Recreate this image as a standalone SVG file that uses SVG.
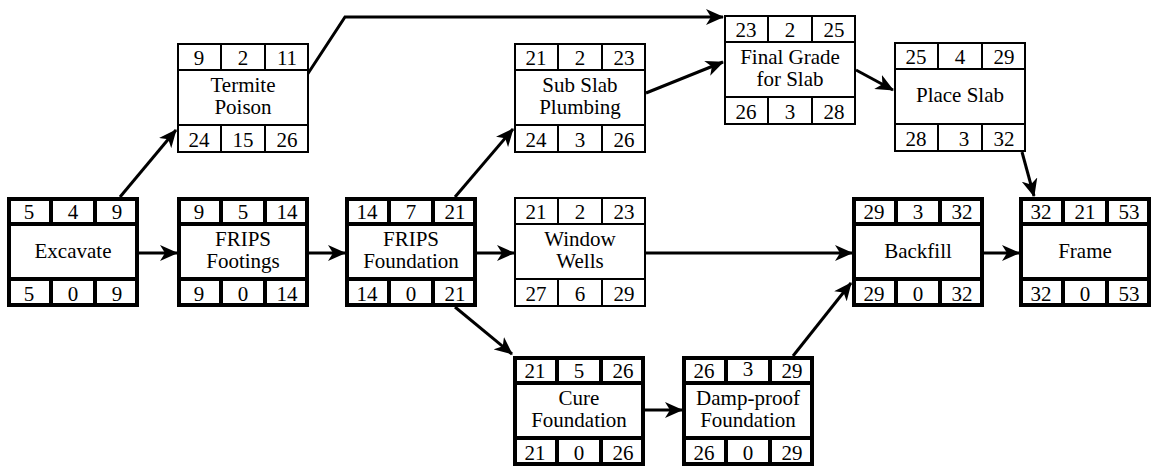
<svg xmlns="http://www.w3.org/2000/svg" width="1156" height="468" viewBox="0 0 1156 468" font-family="Liberation Serif, DejaVu Serif, serif">
<defs>
<style>
.bg{fill:#fff}
.thick rect,.thick line{stroke:#000;stroke-width:4;fill:#fff}
.thin rect,.thin line{stroke:#000;stroke-width:2;fill:#fff}
text{font-size:21px;fill:#000;text-anchor:middle}
.conn path{fill:none;stroke:#000;stroke-width:3;marker-end:url(#arr)}
</style>
<marker id="arr" viewBox="0 0 18 16" refX="17" refY="8" markerWidth="18" markerHeight="16" markerUnits="userSpaceOnUse" orient="auto">
<path d="M0,0 L18,8 L0,16 L5,8 Z" fill="#000"/>
</marker>
</defs>
<rect class="bg" x="0" y="0" width="1156" height="468"/>

<g id="connectors" class="conn">
<path d="M120,197 L176,130"/>
<path d="M139,253 L177,253"/>
<path d="M307,75 L345,17 L723,17"/>
<path d="M309,253 L345,253"/>
<path d="M455,197 L513,129"/>
<path d="M477,253 L514,253"/>
<path d="M455,307 L512,354"/>
<path d="M646,93 L723,62"/>
<path d="M646,253 L852,253"/>
<path d="M645,410 L682,410"/>
<path d="M793,356 L851,283"/>
<path d="M856,70 L893,90"/>
<path d="M1022,152 L1034,196"/>
<path d="M984,253 L1019,253"/>
</g>

<g id="excavate" class="thick" transform="translate(7,197)">
<rect x="2" y="2" width="128" height="106"/>
<line x1="0" y1="27" x2="132" y2="27"/><line x1="0" y1="82" x2="132" y2="82"/>
<line x1="44" y1="0" x2="44" y2="27"/><line x1="88" y1="0" x2="88" y2="27"/>
<line x1="44" y1="82" x2="44" y2="110"/><line x1="88" y1="82" x2="88" y2="110"/>
<text x="22" y="22">5</text><text x="66" y="22">4</text><text x="110" y="22">9</text>
<text x="66" y="61">Excavate</text>
<text x="22" y="104">5</text><text x="66" y="104">0</text><text x="110" y="104">9</text>
</g>

<g id="termite" class="thin" transform="translate(177,43)">
<rect x="1" y="1" width="130" height="108"/>
<line x1="0" y1="27" x2="132" y2="27"/><line x1="0" y1="82" x2="132" y2="82"/>
<line x1="44" y1="0" x2="44" y2="27"/><line x1="88" y1="0" x2="88" y2="27"/>
<line x1="44" y1="82" x2="44" y2="110"/><line x1="88" y1="82" x2="88" y2="110"/>
<text x="22" y="22">9</text><text x="66" y="22">2</text><text x="110" y="22">11</text>
<text x="66" y="49">Termite</text><text x="66" y="71">Poison</text>
<text x="22" y="104">24</text><text x="66" y="104">15</text><text x="110" y="104">26</text>
</g>

<g id="footings" class="thick" transform="translate(177,197)">
<rect x="2" y="2" width="128" height="106"/>
<line x1="0" y1="27" x2="132" y2="27"/><line x1="0" y1="82" x2="132" y2="82"/>
<line x1="44" y1="0" x2="44" y2="27"/><line x1="88" y1="0" x2="88" y2="27"/>
<line x1="44" y1="82" x2="44" y2="110"/><line x1="88" y1="82" x2="88" y2="110"/>
<text x="22" y="22">9</text><text x="66" y="22">5</text><text x="110" y="22">14</text>
<text x="66" y="49">FRIPS</text><text x="66" y="71">Footings</text>
<text x="22" y="104">9</text><text x="66" y="104">0</text><text x="110" y="104">14</text>
</g>

<g id="foundation" class="thick" transform="translate(345,197)">
<rect x="2" y="2" width="128" height="106"/>
<line x1="0" y1="27" x2="132" y2="27"/><line x1="0" y1="82" x2="132" y2="82"/>
<line x1="44" y1="0" x2="44" y2="27"/><line x1="88" y1="0" x2="88" y2="27"/>
<line x1="44" y1="82" x2="44" y2="110"/><line x1="88" y1="82" x2="88" y2="110"/>
<text x="22" y="22">14</text><text x="66" y="22">7</text><text x="110" y="22">21</text>
<text x="66" y="49">FRIPS</text><text x="66" y="71">Foundation</text>
<text x="22" y="104">14</text><text x="66" y="104">0</text><text x="110" y="104">21</text>
</g>

<g id="subslab" class="thin" transform="translate(514,43)">
<rect x="1" y="1" width="130" height="108"/>
<line x1="0" y1="27" x2="132" y2="27"/><line x1="0" y1="82" x2="132" y2="82"/>
<line x1="44" y1="0" x2="44" y2="27"/><line x1="88" y1="0" x2="88" y2="27"/>
<line x1="44" y1="82" x2="44" y2="110"/><line x1="88" y1="82" x2="88" y2="110"/>
<text x="22" y="22">21</text><text x="66" y="22">2</text><text x="110" y="22">23</text>
<text x="66" y="49">Sub Slab</text><text x="66" y="71">Plumbing</text>
<text x="22" y="104">24</text><text x="66" y="104">3</text><text x="110" y="104">26</text>
</g>

<g id="windowwells" class="thin" transform="translate(514,197)">
<rect x="1" y="1" width="130" height="108"/>
<line x1="0" y1="27" x2="132" y2="27"/><line x1="0" y1="82" x2="132" y2="82"/>
<line x1="44" y1="0" x2="44" y2="27"/><line x1="88" y1="0" x2="88" y2="27"/>
<line x1="44" y1="82" x2="44" y2="110"/><line x1="88" y1="82" x2="88" y2="110"/>
<text x="22" y="22">21</text><text x="66" y="22">2</text><text x="110" y="22">23</text>
<text x="66" y="49">Window</text><text x="66" y="71">Wells</text>
<text x="22" y="104">27</text><text x="66" y="104">6</text><text x="110" y="104">29</text>
</g>

<g id="cure" class="thick" transform="translate(513,356)">
<rect x="2" y="2" width="128" height="106"/>
<line x1="0" y1="27" x2="132" y2="27"/><line x1="0" y1="82" x2="132" y2="82"/>
<line x1="44" y1="0" x2="44" y2="27"/><line x1="88" y1="0" x2="88" y2="27"/>
<line x1="44" y1="82" x2="44" y2="110"/><line x1="88" y1="82" x2="88" y2="110"/>
<text x="22" y="22">21</text><text x="66" y="22">5</text><text x="110" y="22">26</text>
<text x="66" y="49">Cure</text><text x="66" y="71">Foundation</text>
<text x="22" y="104">21</text><text x="66" y="104">0</text><text x="110" y="104">26</text>
</g>

<g id="finalgrade" class="thin" transform="translate(724,15)">
<rect x="1" y="1" width="130" height="108"/>
<line x1="0" y1="27" x2="132" y2="27"/><line x1="0" y1="82" x2="132" y2="82"/>
<line x1="44" y1="0" x2="44" y2="27"/><line x1="88" y1="0" x2="88" y2="27"/>
<line x1="44" y1="82" x2="44" y2="110"/><line x1="88" y1="82" x2="88" y2="110"/>
<text x="22" y="22">23</text><text x="66" y="22">2</text><text x="110" y="22">25</text>
<text x="66" y="49">Final Grade</text><text x="66" y="71">for Slab</text>
<text x="22" y="104">26</text><text x="66" y="104">3</text><text x="110" y="104">28</text>
</g>

<g id="dampproof" class="thick" transform="translate(682,356)">
<rect x="2" y="2" width="128" height="106"/>
<line x1="0" y1="27" x2="132" y2="27"/><line x1="0" y1="82" x2="132" y2="82"/>
<line x1="44" y1="0" x2="44" y2="27"/><line x1="88" y1="0" x2="88" y2="27"/>
<line x1="44" y1="82" x2="44" y2="110"/><line x1="88" y1="82" x2="88" y2="110"/>
<text x="22" y="22">26</text><text x="66" y="20">3</text><text x="110" y="22">29</text>
<text x="66" y="49">Damp-proof</text><text x="66" y="71">Foundation</text>
<text x="22" y="104">26</text><text x="66" y="104">0</text><text x="110" y="104">29</text>
</g>

<g id="placeslab" class="thin" transform="translate(894,42)">
<rect x="1" y="1" width="130" height="108"/>
<line x1="0" y1="27" x2="132" y2="27"/><line x1="0" y1="82" x2="132" y2="82"/>
<line x1="44" y1="0" x2="44" y2="27"/><line x1="88" y1="0" x2="88" y2="27"/>
<line x1="44" y1="82" x2="44" y2="110"/><line x1="88" y1="82" x2="88" y2="110"/>
<text x="22" y="22">25</text><text x="66" y="22">4</text><text x="110" y="22">29</text>
<text x="66" y="60">Place Slab</text>
<text x="22" y="104">28</text><text x="70" y="104">3</text><text x="110" y="104">32</text>
</g>

<g id="backfill" class="thick" transform="translate(852,197)">
<rect x="2" y="2" width="128" height="106"/>
<line x1="0" y1="27" x2="132" y2="27"/><line x1="0" y1="82" x2="132" y2="82"/>
<line x1="44" y1="0" x2="44" y2="27"/><line x1="88" y1="0" x2="88" y2="27"/>
<line x1="44" y1="82" x2="44" y2="110"/><line x1="88" y1="82" x2="88" y2="110"/>
<text x="22" y="22">29</text><text x="66" y="22">3</text><text x="110" y="22">32</text>
<text x="66" y="61">Backfill</text>
<text x="22" y="104">29</text><text x="66" y="104">0</text><text x="110" y="104">32</text>
</g>

<g id="frame" class="thick" transform="translate(1019,197)">
<rect x="2" y="2" width="128" height="106"/>
<line x1="0" y1="27" x2="132" y2="27"/><line x1="0" y1="82" x2="132" y2="82"/>
<line x1="44" y1="0" x2="44" y2="27"/><line x1="88" y1="0" x2="88" y2="27"/>
<line x1="44" y1="82" x2="44" y2="110"/><line x1="88" y1="82" x2="88" y2="110"/>
<text x="22" y="22">32</text><text x="66" y="22">21</text><text x="110" y="22">53</text>
<text x="66" y="61">Frame</text>
<text x="22" y="104">32</text><text x="66" y="104">0</text><text x="110" y="104">53</text>
</g>
</svg>
